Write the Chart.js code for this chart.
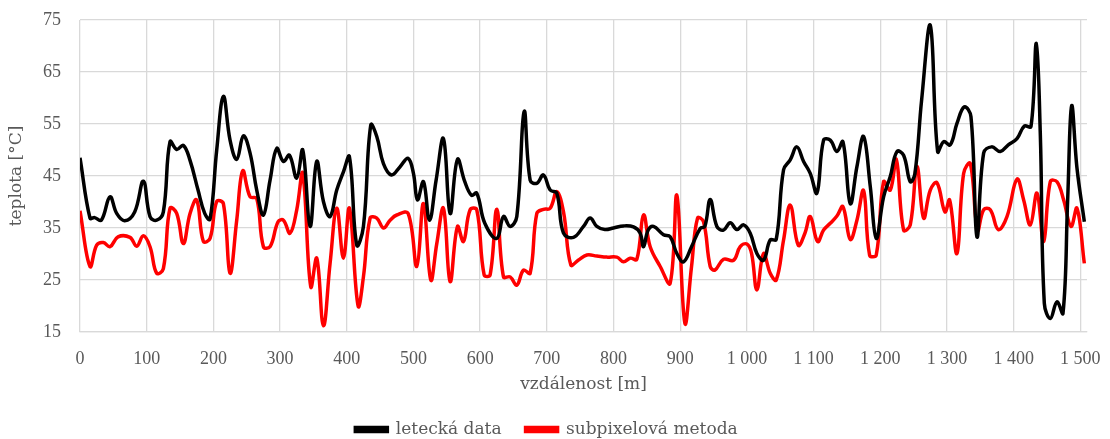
<!DOCTYPE html>
<html>
<head>
<meta charset="utf-8">
<script src="https://cdn.jsdelivr.net/npm/chart.js@4/dist/chart.umd.min.js"></script>
<style>
  html, body { margin: 0; padding: 0; background: #fff; overflow: hidden; }
  #graf { display: block; }
</style>
</head>
<body>
<canvas id="graf" width="1110" height="439"></canvas>
<script>
// vzdálenost [m] a teplota [°C] – letecká data
const vzdalenostLet = [0, 15, 22, 32, 45, 55, 67, 82, 95, 105, 115, 125, 135, 145, 155, 165, 177, 187, 195, 205,
    215, 225, 235, 245, 255, 265, 275, 285, 295, 305, 314, 325, 334, 345, 355, 365, 375, 385, 395, 404,
    415, 425, 436, 445, 455, 467, 480, 492, 500, 506, 515, 524, 534, 545, 555, 566, 577, 587, 595, 607,
    625, 635, 645, 655, 666, 675, 685, 695, 705, 715, 725, 740, 755, 765, 775, 787, 800, 815, 830, 840,
    845, 852, 860, 875, 885, 895, 905, 917, 930, 937, 945, 955, 965, 975, 985, 995, 1005, 1015, 1025, 1035,
    1044, 1055, 1065, 1075, 1085, 1095, 1105, 1115, 1125, 1135, 1144, 1155, 1165, 1175, 1185, 1194, 1205, 1215, 1225, 1235,
    1245, 1252, 1262, 1275, 1286, 1295, 1305, 1315, 1326, 1336, 1345, 1355, 1367, 1380, 1392, 1405, 1416, 1426, 1434, 1440,
    1446, 1455, 1465, 1474, 1481, 1487, 1495, 1506];
const teplotaLet = [48.5, 36.9, 37, 36.5, 41, 37.8, 36.4, 38.1, 44, 37.2, 36.5, 38.1, 51.6, 50.1, 50.9, 48, 42.3, 37.8, 36.7, 50,
    60.3, 51.9, 48.2, 52.7, 49.4, 42.3, 37.5, 44.2, 50.3, 47.8, 49, 44.6, 50, 35.3, 47.8, 40.1, 37.2, 42.3, 45.8, 48.7,
    31.7, 35.3, 54.8, 52.6, 47.4, 45.2, 46.8, 48.4, 45.5, 40.4, 43.9, 36.5, 44.2, 52.2, 37.8, 48.2, 43.9, 41.3, 41.7, 35.9,
    33, 37.2, 35.3, 37.2, 57.4, 44.2, 43.6, 45.2, 42.3, 41.7, 34, 33.2, 35.3, 36.9, 35.3, 34.7, 35, 35.4, 35.2, 34,
    31.4, 34.6, 35.3, 33.7, 33.3, 30.1, 28.5, 31.4, 34.9, 35.3, 40.5, 35.3, 34.6, 36, 34.7, 35.6, 34, 30.1, 28.8, 32.7,
    32.8, 46.2, 48.1, 50.6, 47.8, 45.5, 41.7, 51.9, 51.9, 49.7, 51.6, 39.7, 46.8, 52.6, 43, 33, 41, 44.9, 49.7, 49,
    43.9, 45.5, 59.6, 74, 49.7, 51.6, 51, 55.1, 58.3, 56.4, 33.3, 49.4, 50.6, 49.7, 51, 52.2, 54.6, 54.5, 70.5, 53,
    20.5, 17.6, 20.8, 18.6, 40.4, 58.5, 46.5, 36.2];

// vzdálenost [m] a teplota [°C] – subpixelová metoda
const vzdalenostSub = [0, 15, 25, 35, 45, 57, 75, 85, 95, 105, 115, 125, 135, 145, 155, 165, 175, 185, 195, 205,
    215, 225, 235, 244, 255, 265, 275, 285, 297, 305, 315, 325, 334, 346, 355, 365, 375, 385, 395, 404,
    417, 425, 435, 445, 455, 465, 475, 492, 505, 515, 526, 535, 545, 555, 566, 575, 585, 595, 606, 615,
    625, 635, 645, 655, 665, 675, 685, 695, 705, 715, 725, 736, 747, 760, 775, 790, 805, 815, 825, 835,
    845, 855, 870, 885, 895, 907, 917, 926, 935, 945, 952, 965, 980, 990, 1000, 1007, 1015, 1025, 1035, 1044,
    1055, 1065, 1077, 1087, 1095, 1106, 1115, 1125, 1135, 1144, 1155, 1165, 1175, 1184, 1194, 1205, 1215, 1224, 1235, 1245,
    1255, 1265, 1275, 1285, 1297, 1304, 1315, 1325, 1335, 1346, 1355, 1365, 1377, 1390, 1405, 1415, 1425, 1435, 1445, 1455,
    1465, 1475, 1486, 1495, 1506];
const teplotaSub = [38.3, 27.6, 31.7, 32.2, 31.4, 33.3, 33.2, 31.5, 33.5, 31.4, 26.3, 27.2, 38.8, 37.8, 32, 37.8, 40.4, 32.4, 33, 40.1,
    39.7, 26.3, 36.5, 46, 41, 40.7, 31.4, 31.4, 36.2, 36.5, 34, 38.5, 45.5, 23.7, 29.2, 16.2, 28.2, 38.8, 29.2, 38.8,
    20, 25.6, 36.9, 36.9, 35, 36.5, 37.5, 37.8, 27.6, 39.7, 25, 32, 38.8, 24.7, 35.3, 32.4, 38.5, 38.5, 26, 26,
    38.6, 25.6, 25.6, 24, 26.9, 26.3, 37.8, 38.6, 38.8, 42, 38.1, 27.9, 28.8, 29.8, 29.6, 29.4, 29.4, 28.5, 29.2, 29,
    37.5, 31.4, 27.6, 24.4, 41.3, 16.7, 27.6, 36.9, 36.2, 27.6, 26.9, 29, 28.8, 31.4, 31.9, 30.1, 23.1, 30.1, 26.3, 25,
    32.7, 39.4, 31.7, 34, 37.2, 32.4, 34.6, 35.9, 37.3, 39.1, 32.8, 36.5, 42.2, 29.8, 29.8, 43.9, 42.3, 48.2, 34.6, 35.6,
    46.8, 36.9, 42.3, 43.7, 38.1, 40.4, 30.1, 45.5, 47.4, 34.6, 38.5, 38.5, 34.7, 37.2, 44.4, 40.4, 35.6, 41.7, 32.4, 43.9,
    43.9, 40.4, 35.3, 38.8, 28.2];

// popisky osy x (po 100 m)
const znackyX = [0, 100, 200, 300, 400, 500, 600, 700, 800, 900, 1000, 1100, 1200, 1300, 1400, 1500];

const nazvySerii = ['letecká data', 'subpixelová metoda'];
const barvySerii = ['#000000', '#ff0000'];

const body = (xs, ys) => xs.map((x, i) => ({ x: x, y: ys[i] }));

// čísla s mezerou jako oddělovačem tisíců (1 000)
function formatCislo(v) {
    return String(v).replace(/\B(?=(\d{3})+(?!\d))/g, ' ');
}

const pismoCisla = '"Liberation Serif", "DejaVu Serif", serif';
const pismoText = '"DejaVu Serif", "Liberation Serif", serif';
const sedaText = '#595959';
const sedaMrizka = '#d9d9d9';

const ctx = document.getElementById('graf').getContext('2d');

new Chart(ctx, {
    type: 'line',
    data: {
        datasets: [
            {
                label: nazvySerii[0],
                data: body(vzdalenostLet, teplotaLet),
                borderColor: barvySerii[0],
                backgroundColor: barvySerii[0],
                borderWidth: 3.5,
                pointRadius: 0,
                tension: 0.4
            },
            {
                label: nazvySerii[1],
                data: body(vzdalenostSub, teplotaSub),
                borderColor: barvySerii[1],
                backgroundColor: barvySerii[1],
                borderWidth: 3.5,
                pointRadius: 0,
                tension: 0.4
            }
        ]
    },
    options: {
        responsive: false,
        animation: false,
        layout: {
            padding: { top: 20, right: 23, bottom: -9, left: 6 }
        },
        plugins: {
            legend: {
                position: 'bottom',
                labels: {
                    color: sedaText,
                    font: { family: pismoText, size: 17 },
                    boxWidth: 32,
                    boxHeight: 4,
                    padding: 24
                }
            },
            tooltip: { enabled: false }
        },
        scales: {
            x: {
                type: 'linear',
                min: 0,
                max: 1510,
                afterBuildTicks: (osa) => {
                    osa.ticks = znackyX.map(v => ({ value: v }));
                },
                // pevná výška osy, okraje určuje jen layout.padding
                afterFit: (osa) => {
                    osa.height = 65;
                    osa.paddingLeft = 0;
                    osa.paddingRight = 0;
                },
                ticks: {
                    color: sedaText,
                    font: { family: pismoCisla, size: 18 },
                    padding: 16,
                    maxRotation: 0,
                    autoSkip: false,
                    callback: (v) => formatCislo(v)
                },
                grid: { color: sedaMrizka, lineWidth: 1.3, drawTicks: false },
                border: { color: sedaMrizka, width: 1.3 },
                title: {
                    display: true,
                    text: 'vzdálenost [m]',
                    color: sedaText,
                    font: { family: pismoText, size: 17 },
                    padding: { top: 0, bottom: 2 }
                }
            },
            y: {
                min: 15,
                max: 75,
                afterFit: (osa) => {
                    osa.width = 74;
                    osa.paddingTop = 0;
                    osa.paddingBottom = 0;
                },
                ticks: {
                    stepSize: 10,
                    color: sedaText,
                    font: { family: pismoCisla, size: 18 },
                    padding: 19
                },
                grid: { color: sedaMrizka, lineWidth: 1.3, drawTicks: false },
                border: { display: false },
                title: {
                    display: true,
                    text: 'teplota [°C]',
                    color: sedaText,
                    font: { family: pismoText, size: 17 },
                    padding: { top: 0, bottom: 4 }
                }
            }
        }
    }
});
</script>
</body>
</html>
